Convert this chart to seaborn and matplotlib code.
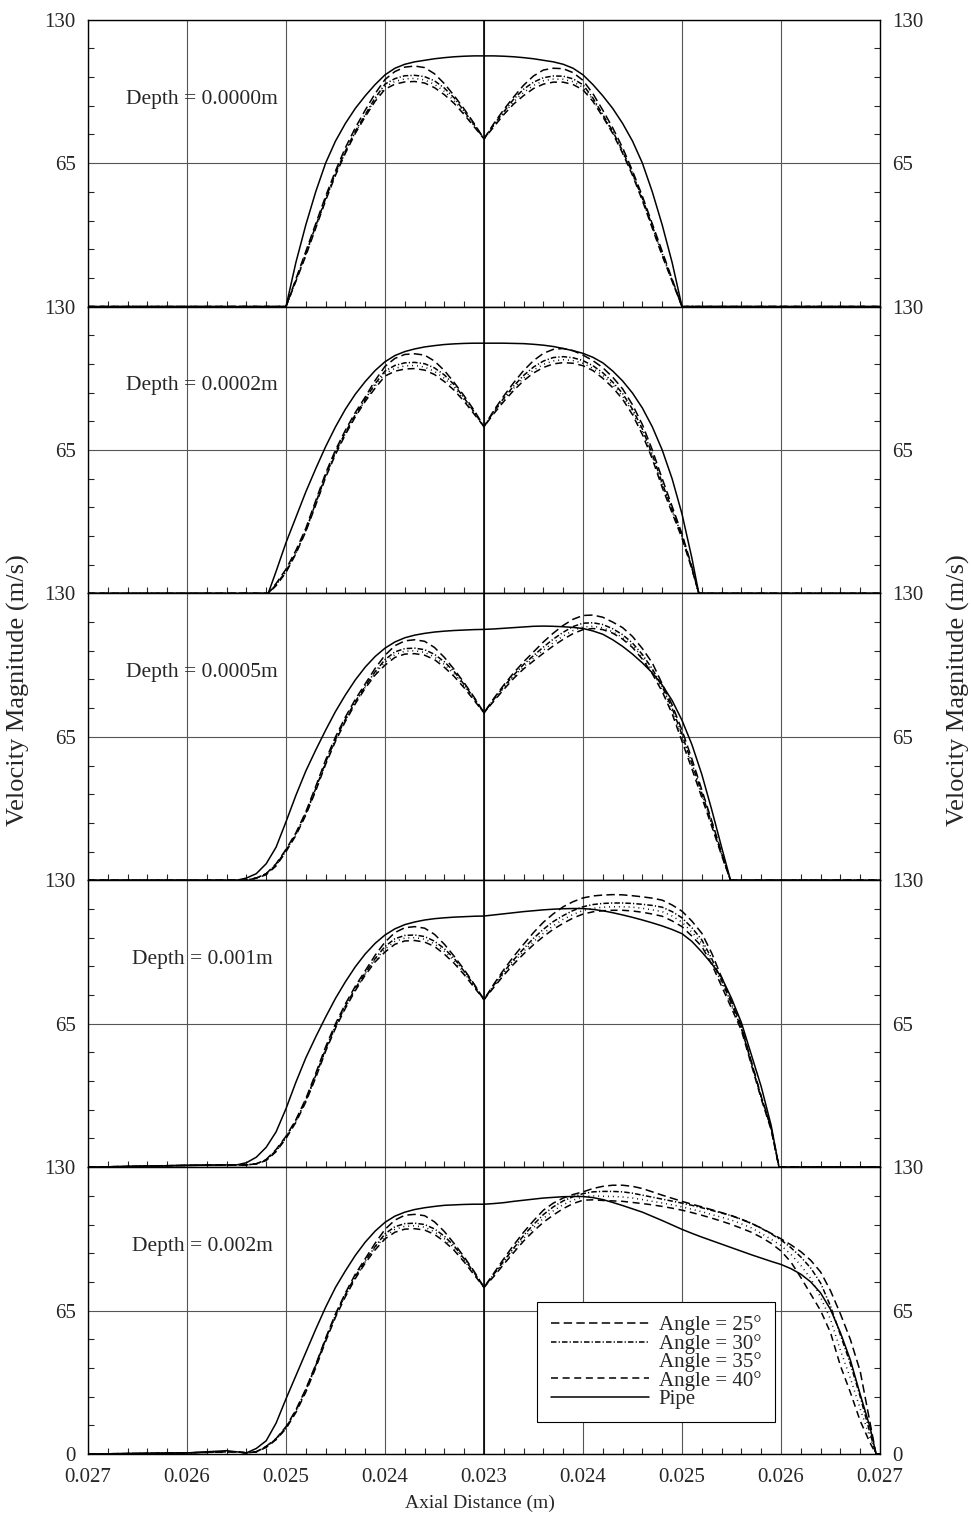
import matplotlib
matplotlib.use("Agg")
import matplotlib.pyplot as plt
import pandas as pd
import seaborn as sns
from matplotlib.ticker import FixedLocator, MultipleLocator, FuncFormatter


def grid(a, b):
    """Evenly spaced axial stations (mm offset from the 0.023 m station), 0.1 mm apart."""
    n = int(round((b - a) / 0.1)) + 1
    return [round(a + 0.1 * k, 2) for k in range(n)]


# Axial positions are offsets (mm) from the 0.023 m station; tick text shows the distance.
tick_pos = [-4, -3, -2, -1, 0, 1, 2, 3, 4]
tick_text = ["0.027", "0.026", "0.025", "0.024", "0.023", "0.024", "0.025", "0.026", "0.027"]

series_names = ["Angle = 25°", "Angle = 30°", "Angle = 35°", "Angle = 40°", "Pipe"]
depth_labels = ["Depth = 0.0000m", "Depth = 0.0002m", "Depth = 0.0005m", "Depth = 0.001m", "Depth = 0.002m"]

# ---- Depth = 0.0000 m ----
x_d0 = [-4.0] + grid(-2.0, 2.0) + [4.0]
pipe_d0 = [0] + [0, 20, 37, 52, 65, 75, 83, 89.8, 95.5, 100.6, 105, 108, 109.8, 110.9, 111.6,
                 112.3, 112.8, 113.2, 113.45, 113.6, 113.6] + \
          [113.6, 113.45, 113.2, 112.8, 112.3, 111.6, 110.9, 109.8, 108, 105, 100.6, 95.5,
           89.8, 83, 75, 65, 52, 37, 20, 0] + [0]
a25_d0 = [0] + [0, 12.5, 25, 37.5, 50, 61.5, 72, 81, 89, 96.5, 102.9, 106.5, 108.5, 109, 108.3,
                105.5, 101, 95.5, 89.5, 83, 76] + \
         [83, 89.3, 95, 100.3, 104.5, 107.2, 108, 107.8, 106, 102.5, 96.5, 89, 81, 72, 61.5,
          50, 37.5, 25, 12.5, 0] + [0]
a30_d0 = [0] + [0, 12, 24, 36.5, 49, 60.5, 70.5, 79.5, 87, 94.5, 100.8, 103.3, 104.6, 104.8, 104.2,
                102.3, 99, 94.5, 88.5, 82.5, 76] + \
         [82.5, 88.3, 94, 98.5, 101.7, 103.7, 104.5, 104.4, 103.2, 100.5, 94.5, 87, 79.5, 70.5,
          60.5, 49, 36.5, 24, 12, 0] + [0]
a35_d0 = [0] + [0, 11.7, 23.5, 36, 48.5, 60, 70, 79, 86.5, 94, 99.6, 102, 103.2, 103.4, 102.7,
                100.7, 97.5, 93.2, 87.8, 82, 76] + \
         [82, 87.6, 92.8, 97, 100.2, 102.3, 103.1, 103, 101.9, 99.3, 94, 86.5, 79, 70, 60,
          48.5, 36, 23.5, 11.7, 0] + [0]
a40_d0 = [0] + [0, 11.5, 23, 35.5, 48, 59.5, 69.5, 78.5, 86, 93, 98.5, 100.8, 101.8, 102, 101.3,
                99.2, 96, 92, 87, 81.5, 76] + \
         [81.5, 87, 91.8, 95.6, 98.8, 100.8, 101.7, 101.7, 100.6, 98.2, 93, 86, 78.5, 69.5,
          59.5, 48, 35.5, 23, 11.5, 0] + [0]

# ---- Depth = 0.0002 m ----
x_d1 = [-4.0, -2.18] + grid(-2.1, 2.1) + [2.17, 4.0]
pipe_d1 = [0, 0] + [10, 23, 34.5, 46, 56.5, 66.5, 75.5, 83.5, 90.3, 96, 101, 105, 107.8, 109.6,
                    110.8, 111.7, 112.3, 112.8, 113.1, 113.3, 113.4, 113.4] + \
          [113.4, 113.4, 113.3, 113.2, 112.9, 112.5, 111.9, 111, 110, 108.8, 107, 104.5, 100.8,
           96.3, 90.8, 84, 75.5, 65, 52, 36, 16] + [0, 0]
a25_d1 = [0, 0] + [4.5, 11, 19.5, 29.5, 42, 54.5, 65, 74, 82, 89, 96.5, 102.9, 106.5, 108.3,
                   108.6, 108, 105.3, 101, 95.5, 89.5, 83, 75.6] + \
         [83, 89.5, 95.5, 101, 105.5, 108.8, 110.6, 111, 110, 108, 105.5, 102.3, 98, 92.7,
          85.5, 76.5, 65, 52, 39.5, 27, 12] + [0, 0]
a30_d1 = [0, 0] + [4, 10, 18.5, 28.5, 41, 53.5, 64, 73, 81, 88, 95, 100.8, 103.3, 104.5, 104.7,
                   104.1, 102.2, 99, 94.5, 88.5, 82.3, 75.6] + \
         [82.5, 88.5, 94, 98.8, 102.6, 105.3, 106.9, 107.3, 106.8, 105.5, 103.2, 100, 95.8,
          90.6, 83.5, 74.5, 63, 50, 38, 26, 11.5] + [0, 0]
a35_d1 = [0, 0] + [4, 10, 18.3, 28.2, 40.5, 53, 63.5, 72.5, 80.5, 87.5, 94, 99.6, 102, 103.1,
                   103.3, 102.6, 100.6, 97.5, 93.2, 87.8, 81.8, 75.6] + \
         [82, 87.8, 93, 97.6, 101.2, 103.8, 105.4, 105.9, 105.5, 104.3, 102, 98.8, 94.6, 89.3,
          82.3, 73.2, 62, 49, 37.3, 25.5, 11.3] + [0, 0]
a40_d1 = [0, 0] + [3.5, 9.5, 18, 28, 40, 52.5, 63, 72, 80, 87, 93, 98.5, 100.7, 101.7, 101.9,
                   101.2, 99.2, 96, 92, 87, 81.3, 75.6] + \
         [81.5, 87, 92, 96.4, 99.9, 102.4, 104, 104.6, 104.3, 103.2, 101, 97.5, 93.3, 88, 81,
          72, 61, 48, 36.5, 25, 11] + [0, 0]

# ---- Depth = 0.0005 m ----
x_d2 = [-4.0] + grid(-2.5, 2.4) + [2.49, 4.0]
pipe_d2 = [0] + [0, 1, 3, 7.5, 15, 26.5, 38.5, 49.5, 59, 68, 76.5, 84, 90.8, 96.6, 101.4, 105.2,
                 108, 109.9, 111.1, 111.9, 112.5, 112.9, 113.2, 113.4, 113.6, 113.7] + \
          [113.9, 114.2, 114.5, 114.8, 115.1, 115.2, 115.1, 114.9, 114.6, 114.1, 113, 111.5,
           109, 106, 102.5, 98.5, 94, 88.5, 81.5, 72.5, 61.5, 48, 32, 15] + [0, 0]
a25_d2 = [0] + [0, 0, 1, 3, 7.5, 14, 21.5, 31, 42.5, 54.5, 65, 74, 82, 89, 96, 102, 106.3, 108.5,
                109, 108.3, 105.5, 101, 95.5, 89.5, 83, 75.9] + \
         [82.5, 88.5, 94, 99, 103.5, 108, 112, 115.5, 118.3, 120, 120.2, 119.2, 117, 114.5,
          110.5, 105, 98.5, 89, 79.5, 68, 55, 41, 27, 12.5] + [0, 0]
a30_d2 = [0] + [0, 0, 1, 3, 7, 13.6, 21, 30.3, 41.5, 53.5, 64, 73, 81, 88, 94.5, 100, 103.5, 105,
                105.2, 104.5, 102.4, 99, 94.5, 88.7, 82.5, 75.9] + \
         [82, 87.8, 93, 97.8, 101.8, 105.7, 109.3, 112.4, 115, 116.5, 116.7, 115.9, 114, 111.3,
          107.5, 102.3, 95.8, 87.8, 78, 66, 53, 39.5, 26, 12] + [0, 0]
a35_d2 = [0] + [0, 0, 1, 2.8, 6.8, 13.3, 20.7, 30, 41, 53, 63.5, 72.5, 80.5, 87.5, 93.7, 98.8,
                102.3, 103.8, 104, 103.3, 101.2, 97.8, 93.4, 88, 82, 75.9] + \
         [81.6, 87.2, 92.2, 96.8, 100.6, 104.3, 107.7, 110.7, 113.2, 114.8, 115.1, 114.4, 112.6,
          110, 106.3, 101.2, 94.7, 86.6, 76.8, 64.5, 51.8, 38.5, 25.3, 11.7] + [0, 0]
a40_d2 = [0] + [0, 0, 1, 2.5, 6.5, 13, 20.3, 29.5, 40.5, 52.5, 63, 72, 80, 87, 93, 97.5, 101,
                102.5, 102.7, 102, 100, 96.5, 92.3, 87.2, 81.5, 75.9] + \
         [81.2, 86.5, 91.5, 95.8, 99.4, 102.9, 106.2, 109.2, 111.8, 113.6, 114.1, 113.6, 112,
          109.3, 105.5, 100.2, 93.6, 85.5, 75.5, 63, 50.5, 37.5, 24.5, 11.3] + [0, 0]

# ---- Depth = 0.001 m ----
x_d3 = [-4.0, -3.0, -2.6] + grid(-2.5, 2.9) + [2.98, 4.0]
pipe_d3 = [0, 0.8, 1] + [1, 2, 4.5, 9, 16, 26.5, 38.5, 49.5, 59, 68, 76.5, 84, 90.8, 96.6, 101.4,
                         105.2, 108, 109.9, 111.1, 112, 112.6, 113, 113.3, 113.5, 113.7, 113.8] + \
          [114.3, 114.8, 115.3, 115.8, 116.2, 116.6, 116.9, 117.1, 117.2, 117.2, 116.8, 116.2,
           115.3, 114.3, 113.2, 112, 110.7, 109.3, 107.7, 105.8, 102.3, 97.5, 92.2, 86, 76.5,
           65.5, 51, 36.5, 19] + [0, 0]
a25_d3 = [0, 0.8, 1] + [1, 1, 1.5, 3.5, 8, 14, 21.5, 31, 42.5, 54.5, 65, 74, 82, 89, 96, 102,
                        106.3, 108.5, 109, 108.3, 105.5, 101, 95.5, 89.5, 83, 75.9] + \
         [83, 89.5, 95.5, 101, 106.3, 111, 114.8, 118, 120.3, 122, 122.9, 123.3, 123.5, 123.4,
          123, 122.5, 121.9, 121, 118.8, 116, 111.5, 106, 97, 86, 75, 64, 48, 32, 18] + [0, 0]
a30_d3 = [0, 0.8, 1] + [1, 1, 1.5, 3.3, 7.5, 13.6, 21, 30.3, 41.5, 53.5, 64, 73, 81, 88, 94.5, 100,
                        103.5, 105, 105.2, 104.5, 102.4, 99, 94.5, 88.7, 82.5, 75.9] + \
         [82.5, 88.5, 94, 99, 103.7, 107.8, 111.3, 114, 116.3, 118, 119, 119.5, 119.7, 119.7,
          119.5, 119.1, 118.6, 117.8, 115.8, 113, 108.5, 103, 94.5, 84.5, 74, 63, 47.5, 32,
          17.5] + [0, 0]
a35_d3 = [0, 0.8, 1] + [1, 1, 1.5, 3.1, 7.2, 13.3, 20.7, 30, 41, 53, 63.5, 72.5, 80.5, 87.5, 93.7,
                        98.8, 102.3, 103.8, 104, 103.3, 101.2, 97.8, 93.4, 88, 82, 75.9] + \
         [82, 87.7, 93, 97.8, 102.2, 106, 109.4, 112.3, 114.5, 116.3, 117.3, 117.8, 118, 118,
          117.8, 117.3, 116.6, 115.8, 113.8, 111, 106.5, 101.5, 93.3, 83.3, 73, 62.5, 47, 31.5,
          17.3] + [0, 0]
a40_d3 = [0, 0.8, 1] + [1, 1, 1.5, 3, 7, 13, 20.3, 29.5, 40.5, 52.5, 63, 72, 80, 87, 93, 97.5,
                        101, 102.5, 102.7, 102, 100, 96.5, 92.3, 87.2, 81.5, 75.9] + \
         [81.5, 87, 92, 96.6, 100.8, 104.5, 107.8, 110.5, 112.9, 114.7, 115.7, 116.2, 116.4,
          116.4, 116.1, 115.5, 114.7, 113.7, 111.6, 109, 104.7, 100, 92, 82, 72, 62, 46.5, 31,
          17] + [0, 0]

# ---- Depth = 0.002 m ----
x_d4 = [-4.0, -3.0, -2.6] + grid(-2.5, 3.9) + [3.96, 4.0]
pipe_d4 = [0, 0.5, 1.5] + [1, 0.5, 2.5, 6, 14, 25, 35.5, 46, 56.5, 66.5, 75.5, 83, 90, 96, 101,
                           105, 107.8, 109.6, 110.8, 111.6, 112.2, 112.7, 112.9, 113.1, 113.2,
                           113.2] + \
          [113.5, 113.9, 114.5, 115, 115.5, 116, 116.3, 116.6, 116.7, 116.7, 116.2, 115.3, 114,
           112.6, 111.1, 109.6, 107.7, 105.8, 103.8, 101.8, 100, 98.3, 96.7, 95.1, 93.5, 91.9,
           90.3, 88.8, 87.3, 85.9, 84, 81.5, 78, 73, 65.5, 55, 42.7, 27, 12] + [0, 0]
a25_d4 = [0, 0.5, 1] + [1, 0.5, 1, 3.5, 7, 12.4, 20, 29.5, 40.5, 52.5, 63.5, 73, 81.5, 88.5, 95.5,
                        101.8, 106, 108.2, 108.6, 108, 105.2, 100.8, 95.3, 89.3, 82.8, 75.5] + \
         [82, 88.5, 94.7, 100.5, 105.7, 110.5, 113.7, 116, 117.6, 118.8, 120.3, 121.3, 121.8,
          121.8, 121.3, 120.3, 118.8, 117.3, 115.9, 114.5, 113.2, 112, 110.7, 109.4, 108, 106.3,
          104.5, 102.4, 100, 97.5, 94.8, 91.7, 87.8, 82.5, 74, 63.5, 52, 37.5, 14] + [0, 0]
a30_d4 = [0, 0.5, 1] + [1, 0.5, 1, 3.3, 6.8, 12, 19.5, 29, 40, 52, 63, 72.3, 80.5, 87.5, 94, 99.8,
                        103, 104.4, 104.6, 104, 102, 98.7, 94.2, 88.4, 82.2, 75.5] + \
         [81.5, 87.5, 93.3, 99, 104, 108.5, 112, 114.7, 116.6, 118, 118.8, 119, 119, 118.8,
          118.2, 117.3, 116.4, 115.5, 114.6, 113.7, 112.7, 111.6, 110.4, 109.2, 108, 106.4,
          104.6, 102.3, 99.8, 97, 93.5, 89.3, 84.3, 77.5, 67, 54, 41, 26, 9.4] + [0, 0]
a35_d4 = [0, 0.5, 1] + [1, 0.5, 1, 3.1, 6.6, 11.8, 19.2, 28.6, 39.6, 51.5, 62.5, 71.8, 80, 87,
                        93.3, 98.6, 101.8, 103.2, 103.4, 102.8, 100.7, 97.5, 93.2, 87.7, 81.7,
                        75.5] + \
         [81, 86.8, 92.3, 97.7, 102.5, 106.8, 110.2, 113, 115, 116.6, 117, 116.8, 116.7, 116.5,
          116, 115.3, 114.5, 113.8, 112.9, 112, 110.9, 109.8, 108.5, 107.3, 106, 104.3, 102.5,
          100, 97.3, 94.5, 90.5, 85.5, 79.5, 71, 61, 47, 34.5, 20.5, 7.2] + [0, 0]
a40_d4 = [0, 0.5, 1] + [1, 0.5, 1, 3, 6.5, 11.5, 18.8, 28, 39, 51, 62, 71.3, 79.5, 86.5, 92.5,
                        97.5, 100.5, 101.9, 102.1, 101.5, 99.5, 96.3, 92.2, 87, 81.2, 75.5] + \
         [80.5, 86, 91.3, 96.5, 101, 105, 108.3, 111.2, 113.5, 115, 115.2, 114.9, 114.7, 114.5,
          114, 113.5, 112.9, 112.2, 111.4, 110.5, 109.4, 108.2, 106.9, 105.5, 104, 102.3, 100.5,
          98.2, 95.5, 92, 87, 80, 72.5, 65, 55, 40, 28, 15, 5] + [0, 0]

panels = [
    (x_d0, [a25_d0, a30_d0, a35_d0, a40_d0, pipe_d0]),
    (x_d1, [a25_d1, a30_d1, a35_d1, a40_d1, pipe_d1]),
    (x_d2, [a25_d2, a30_d2, a35_d2, a40_d2, pipe_d2]),
    (x_d3, [a25_d3, a30_d3, a35_d3, a40_d3, pipe_d3]),
    (x_d4, [a25_d4, a30_d4, a35_d4, a40_d4, pipe_d4]),
]

for k, (xs, ys) in enumerate(panels):
    for name, vals in zip(series_names, ys):
        if len(vals) != len(xs):
            raise ValueError(f"panel {k} {name}: {len(vals)} values for {len(xs)} stations")

line_dashes = {
    "Angle = 25°": (5.5, 2.8),
    "Angle = 30°": (3.6, 1.4, 0.8, 1.4),
    "Angle = 35°": (0.6, 2.6),
    "Angle = 40°": (4.6, 3.0),
    "Pipe": "",
}
line_colors = {name: "black" for name in series_names}

sns.set_theme(style="white")
plt.rcParams["font.family"] = ["Liberation Serif", "DejaVu Serif"]
plt.rcParams["axes.edgecolor"] = "black"
plt.rcParams["axes.linewidth"] = 1.0

fig, axes = plt.subplots(5, 1, figsize=(9.71, 15.2), dpi=100, sharex=True)
fig.subplots_adjust(left=88 / 971, right=880 / 971, top=1 - 19.7 / 1520,
                    bottom=1 - 1454 / 1520, hspace=0)

TICK_FS = 15
for i, (ax, (xs, ys), dlabel) in enumerate(zip(axes, panels, depth_labels)):
    df = pd.concat([pd.DataFrame({"x": xs, "v": vals, "series": name})
                    for name, vals in zip(series_names, ys)], ignore_index=True)

    ax.set_xlim(-4, 4)
    ax.set_ylim(0, 130)
    ax.xaxis.set_major_locator(FixedLocator(tick_pos))
    ax.xaxis.set_minor_locator(MultipleLocator(0.2))
    ax.yaxis.set_major_locator(FixedLocator([0, 65, 130]))
    ax.yaxis.set_minor_locator(MultipleLocator(13))
    ax.grid(True, which="major", color="#555555", linewidth=0.8)
    ax.set_axisbelow(True)
    ax.axvline(0, color="black", linewidth=1.2, zorder=1)

    sns.lineplot(data=df, x="x", y="v", hue="series", style="series",
                 hue_order=series_names, style_order=series_names,
                 palette=line_colors, dashes=line_dashes, linewidth=1.1,
                 sort=False, estimator=None, ax=ax, legend=(i == 4), zorder=3)

    ax.set_xlabel("")
    ax.set_ylabel("")
    ax.text(-3.62 if i < 3 else -3.56, 94, dlabel, fontsize=15.5, va="center", ha="left")

    last = (i == 4)
    ax.yaxis.set_major_formatter(FuncFormatter(
        lambda v, p, last=last: ("" if (v == 0 and not last) else f"{v:.0f}")))
    ax.tick_params(axis="y", which="major", length=0, labelsize=TICK_FS, pad=9,
                   left=True, right=True, labelleft=True, labelright=True)
    ax.tick_params(axis="y", which="minor", direction="in", length=4, width=0.8,
                   left=True, right=True)
    ax.tick_params(axis="x", which="major", length=0, labelsize=TICK_FS, pad=10)
    ax.tick_params(axis="x", which="minor", direction="in", length=4, width=0.8,
                   bottom=True, top=False)
    for s in ax.spines.values():
        s.set_color("black")
        s.set_linewidth(1.0)

axes[-1].set_xticklabels(tick_text)

# Legend box in the bottom panel
ax = axes[-1]
old = ax.get_legend()
handles = list(old.legend_handles)
labels = [t.get_text() for t in old.get_texts()]
old.remove()
leg = ax.legend(handles, labels, loc="upper left", bbox_to_anchor=(0.567, 0.53),
                fontsize=15, handlelength=4.7, handletextpad=0.48, labelspacing=-0.07,
                borderpad=0.65, borderaxespad=0, frameon=True, fancybox=False)
leg.get_frame().set_edgecolor("black")
leg.get_frame().set_linewidth(0.8)
leg.get_frame().set_alpha(1)
for h, l in zip(leg.legend_handles, labels):
    h.set_color("black")
    if l == "Angle = 35°":
        h.set_visible(False)

fig.text(18 / 971, 1 - 690 / 1520, "Velocity Magnitude (m/s)", rotation=90,
         va="center", ha="center", fontsize=19)
fig.text(958 / 971, 1 - 690 / 1520, "Velocity Magnitude (m/s)", rotation=90,
         va="center", ha="center", fontsize=19)
fig.text(480 / 971, 1 - 1503 / 1520, "Axial Distance (m)", va="center", ha="center",
         fontsize=14)

fig.savefig("out.png", dpi=100, facecolor="white")
